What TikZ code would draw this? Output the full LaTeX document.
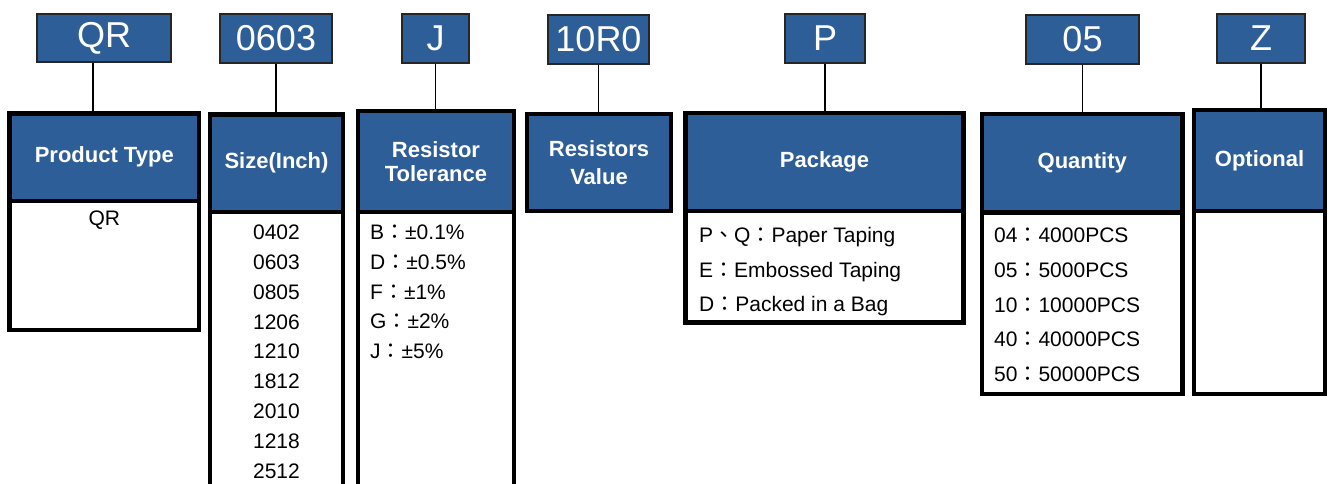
\documentclass[tikz,border=0pt]{standalone}
\usepackage{fontspec}
\setmainfont{Liberation Sans}
\newfontfamily\cjk{Noto Sans CJK TC}
\newcommand{\qc}{{\cjk ：}}
\newcommand{\qd}{{\cjk 、}}
\definecolor{qblue}{RGB}{46,94,152}
\tikzset{
  hdr/.style={draw=black, line width=4.5pt, fill=qblue, text=white, font=\bfseries\fontsize{22}{24.5}\selectfont, align=center, inner sep=0pt},
  bodybox/.style={draw=black, line width=4.5pt, fill=white, inner sep=0pt},
  codebox/.style={draw=black!85, line width=1.5pt, fill=qblue, text=white, font=\fontsize{36}{40}\selectfont, inner sep=0pt},
  item/.style={font=\fontsize{21}{25}\selectfont, inner sep=0pt},
  link/.style={line width=1.5pt, draw=black}
}
\begin{document}
\begin{tikzpicture}[x=1pt,y=-1pt]
\useasboundingbox (0,0) rectangle (1328,484);
\clip (0,0) rectangle (1328,484);
% bodies
\node[bodybox, minimum width=189.5, minimum height=129] (b1) at (104.25,265.5) {};
\node[bodybox, minimum width=133, minimum height=308] (b2) at (276.5,366) {};
\node[bodybox, minimum width=156, minimum height=308] (b3) at (436,366) {};
\node[bodybox, minimum width=278, minimum height=111.5] (b5) at (824.5,266.75) {};
\node[bodybox, minimum width=200.5, minimum height=181.5] (b6) at (1082.25,303.25) {};
\node[bodybox, minimum width=131, minimum height=183] (b7) at (1259.5,302.5) {};
% headers
\node[hdr, minimum width=189.5, minimum height=87.5] (h1) at (104.25,157.25) {Product Type};
\node[hdr, minimum width=133, minimum height=97.5] (h2) at (276.5,163.25) {Size(Inch)};
\node[hdr, minimum width=156, minimum height=101] (h3) at (436,161.5) {Resistor\\Tolerance};
\node[hdr, minimum width=144, minimum height=97, font=\bfseries\fontsize{22}{28}\selectfont] (h4) at (599,162.5) {Resistors\\Value};
\node[hdr, minimum width=278, minimum height=98] (h5) at (824.5,162) {Package};
\node[hdr, minimum width=200.5, minimum height=98.5] (h6) at (1082.25,163.25) {Quantity};
\node[hdr, minimum width=131, minimum height=101] (h7) at (1259.5,160.5) {Optional};
% code boxes
\node[codebox, minimum width=134, minimum height=48] (c1) at (104,38) {QR};
\node[codebox, minimum width=112, minimum height=49] (c2) at (276,38.5) {0603};
\node[codebox, minimum width=67, minimum height=49] (c3) at (435.5,38.5) {J};
\node[codebox, minimum width=101, minimum height=49] (c4) at (598.5,39.5) {10R0};
\node[codebox, minimum width=80, minimum height=49] (c5) at (825,38.5) {P};
\node[codebox, minimum width=113, minimum height=49] (c6) at (1082.5,39.5) {05};
\node[codebox, minimum width=88, minimum height=49] (c7) at (1261,38.5) {Z};
% connectors
\draw[link] ([xshift=-11pt]c1.south) -- ([xshift=-11pt]c1.south |- h1.north);
\draw[link] (c2.south) -- (c2.south |- h2.north);
\draw[link] (c3.south) -- (c3.south |- h3.north);
\draw[link] (c4.south) -- (c4.south |- h4.north);
\draw[link] (c5.south) -- (c5.south |- h5.north);
\draw[link] (c6.south) -- (c6.south |- h6.north);
\draw[link] (c7.south) -- (c7.south |- h7.north);
% body texts
\node[item, anchor=base] (t1) at (104.25,225.5) {QR};
\foreach \t [count=\i from 0] in {0402,0603,0805,1206,1210,1812,2010,1218,2512}
  \node[item, anchor=base] (sz\i) at (276.5,{239.5+29.85*\i}) {\t};
\foreach \t [count=\i from 0] in {B\qc±0.1\%,D\qc±0.5\%,F\qc±1\%,G\qc±2\%,J\qc±5\%}
  \node[item, anchor=base west] (tl\i) at (370,{239.5+29.8*\i}) {\t};
\foreach \t [count=\i from 0] in {P\qd Q\qc Paper Taping,E\qc Embossed Taping,D\qc Packed in a Bag}
  \node[item, anchor=base west] (pk\i) at (699,{242.5+34.5*\i}) {\t};
\foreach \t [count=\i from 0] in {04\qc 4000PCS,05\qc 5000PCS,10\qc 10000PCS,40\qc 40000PCS,50\qc 50000PCS}
  \node[item, anchor=base west] (qt\i) at (994,{242.5+34.75*\i}) {\t};
\end{tikzpicture}
\end{document}
